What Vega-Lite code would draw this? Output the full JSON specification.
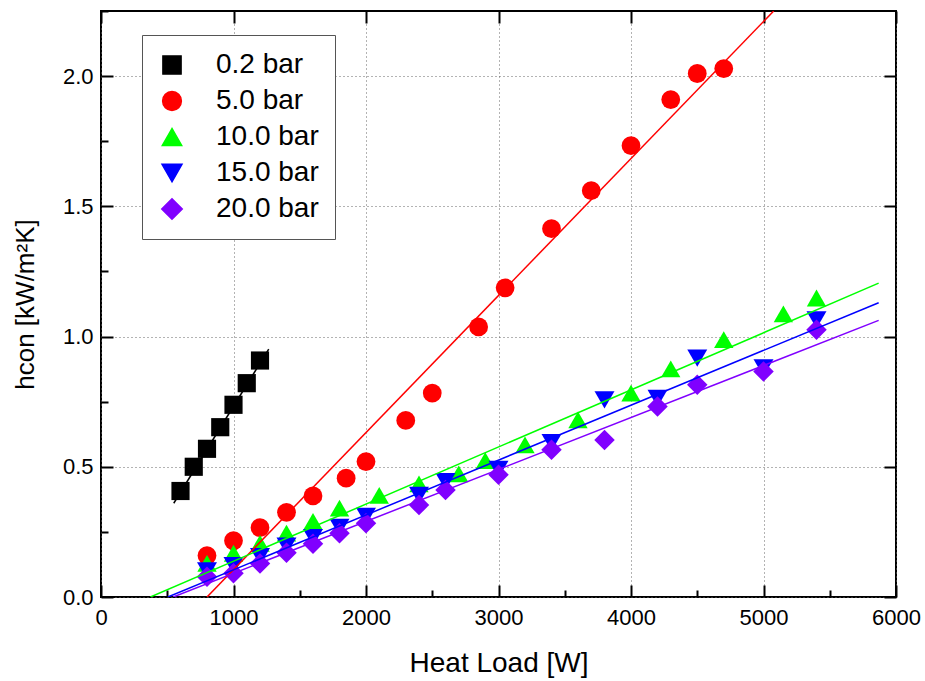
{
  "$schema": "https://vega.github.io/schema/vega-lite/v6.json",
  "width": 795,
  "height": 586,
  "autosize": "none",
  "padding": {"left": 101, "top": 11, "right": 29, "bottom": 84},
  "background": "white",
  "config": {
    "view": {"stroke": "#000000", "strokeWidth": 2},
    "font": "Liberation Sans",
    "axis": {
      "domain": false,
      "tickColor": "#000000",
      "tickWidth": 2,
      "labelColor": "#000000",
      "labelFontSize": 22,
      "titleColor": "#000000",
      "titleFontSize": 28,
      "titleFontWeight": "normal",
      "gridColor": "#666666",
      "gridDash": [1, 3]
    },
    "legend": {
      "labelFontSize": 28,
      "labelColor": "#000000",
      "strokeColor": "#555555",
      "fillColor": "white",
      "padding": 16,
      "rowPadding": 8,
      "labelOffset": 30
    }
  },
  "datasets": {
    "points": [
      {"series": "0.2 bar", "load": 600, "h": 0.407},
      {"series": "0.2 bar", "load": 700, "h": 0.5},
      {"series": "0.2 bar", "load": 800, "h": 0.569},
      {"series": "0.2 bar", "load": 900, "h": 0.652},
      {"series": "0.2 bar", "load": 1000, "h": 0.738},
      {"series": "0.2 bar", "load": 1100, "h": 0.821},
      {"series": "0.2 bar", "load": 1200, "h": 0.908},
      {"series": "5.0 bar", "load": 800, "h": 0.159},
      {"series": "5.0 bar", "load": 1000, "h": 0.216},
      {"series": "5.0 bar", "load": 1200, "h": 0.266},
      {"series": "5.0 bar", "load": 1400, "h": 0.325},
      {"series": "5.0 bar", "load": 1600, "h": 0.388},
      {"series": "5.0 bar", "load": 1850, "h": 0.456},
      {"series": "5.0 bar", "load": 2000, "h": 0.52},
      {"series": "5.0 bar", "load": 2300, "h": 0.678},
      {"series": "5.0 bar", "load": 2500, "h": 0.783},
      {"series": "5.0 bar", "load": 2850, "h": 1.037},
      {"series": "5.0 bar", "load": 3050, "h": 1.187},
      {"series": "5.0 bar", "load": 3400, "h": 1.414},
      {"series": "5.0 bar", "load": 3700, "h": 1.56},
      {"series": "5.0 bar", "load": 4000, "h": 1.733},
      {"series": "5.0 bar", "load": 4300, "h": 1.91},
      {"series": "5.0 bar", "load": 4500, "h": 2.01},
      {"series": "5.0 bar", "load": 4700, "h": 2.029},
      {"series": "10.0 bar", "load": 800, "h": 0.129},
      {"series": "10.0 bar", "load": 1000, "h": 0.168},
      {"series": "10.0 bar", "load": 1200, "h": 0.206},
      {"series": "10.0 bar", "load": 1400, "h": 0.245},
      {"series": "10.0 bar", "load": 1600, "h": 0.29},
      {"series": "10.0 bar", "load": 1800, "h": 0.341},
      {"series": "10.0 bar", "load": 2100, "h": 0.39},
      {"series": "10.0 bar", "load": 2400, "h": 0.434},
      {"series": "10.0 bar", "load": 2700, "h": 0.473},
      {"series": "10.0 bar", "load": 2900, "h": 0.524},
      {"series": "10.0 bar", "load": 3200, "h": 0.584},
      {"series": "10.0 bar", "load": 3600, "h": 0.68},
      {"series": "10.0 bar", "load": 4000, "h": 0.783},
      {"series": "10.0 bar", "load": 4300, "h": 0.876},
      {"series": "10.0 bar", "load": 4700, "h": 0.988},
      {"series": "10.0 bar", "load": 5150, "h": 1.087},
      {"series": "10.0 bar", "load": 5400, "h": 1.148},
      {"series": "15.0 bar", "load": 800, "h": 0.1},
      {"series": "15.0 bar", "load": 1000, "h": 0.12},
      {"series": "15.0 bar", "load": 1200, "h": 0.155},
      {"series": "15.0 bar", "load": 1400, "h": 0.195},
      {"series": "15.0 bar", "load": 1600, "h": 0.228},
      {"series": "15.0 bar", "load": 1800, "h": 0.267},
      {"series": "15.0 bar", "load": 2000, "h": 0.31},
      {"series": "15.0 bar", "load": 2400, "h": 0.39},
      {"series": "15.0 bar", "load": 2600, "h": 0.443},
      {"series": "15.0 bar", "load": 3000, "h": 0.49},
      {"series": "15.0 bar", "load": 3400, "h": 0.593},
      {"series": "15.0 bar", "load": 3800, "h": 0.757},
      {"series": "15.0 bar", "load": 4200, "h": 0.763},
      {"series": "15.0 bar", "load": 4500, "h": 0.917},
      {"series": "15.0 bar", "load": 5000, "h": 0.88},
      {"series": "15.0 bar", "load": 5400, "h": 1.064},
      {"series": "20.0 bar", "load": 800, "h": 0.078},
      {"series": "20.0 bar", "load": 1000, "h": 0.091},
      {"series": "20.0 bar", "load": 1200, "h": 0.129},
      {"series": "20.0 bar", "load": 1400, "h": 0.17},
      {"series": "20.0 bar", "load": 1600, "h": 0.204},
      {"series": "20.0 bar", "load": 1800, "h": 0.245},
      {"series": "20.0 bar", "load": 2000, "h": 0.283},
      {"series": "20.0 bar", "load": 2400, "h": 0.353},
      {"series": "20.0 bar", "load": 2600, "h": 0.411},
      {"series": "20.0 bar", "load": 3000, "h": 0.469},
      {"series": "20.0 bar", "load": 3400, "h": 0.565},
      {"series": "20.0 bar", "load": 3800, "h": 0.603},
      {"series": "20.0 bar", "load": 4200, "h": 0.731},
      {"series": "20.0 bar", "load": 4500, "h": 0.815},
      {"series": "20.0 bar", "load": 5000, "h": 0.866},
      {"series": "20.0 bar", "load": 5400, "h": 1.026}
    ],
    "fits": [
      {"series": "0.2 bar", "load": 549, "h": 0.36},
      {"series": "0.2 bar", "load": 1266, "h": 0.952},
      {"series": "5.0 bar", "load": 800, "h": 0},
      {"series": "5.0 bar", "load": 5077, "h": 2.25},
      {"series": "10.0 bar", "load": 373, "h": 0},
      {"series": "10.0 bar", "load": 5869, "h": 1.205},
      {"series": "15.0 bar", "load": 505, "h": 0},
      {"series": "15.0 bar", "load": 5869, "h": 1.13},
      {"series": "20.0 bar", "load": 545, "h": 0},
      {"series": "20.0 bar", "load": 5869, "h": 1.062}
    ]
  },
  "layer": [
    {
      "data": {"name": "points"},
      "mark": {"type": "point", "filled": true, "opacity": 1, "strokeWidth": 0},
      "encoding": {
        "x": {
          "field": "load",
          "type": "quantitative",
          "scale": {"domain": [0, 6000], "nice": false},
          "axis": {
            "orient": "bottom",
            "title": "Heat Load [W]",
            "values": [0, 500, 1000, 1500, 2000, 2500, 3000, 3500, 4000, 4500, 5000, 5500, 6000],
            "format": "d",
            "labelExpr": "datum.value % 1000 === 0 ? datum.label : ''",
            "tickSize": {"condition": {"test": "datum.value % 1000 === 0", "value": -12}, "value": -7},
            "grid": false,
            "labelFlush": false,
            "labelOverlap": false,
            "labelPadding": 22,
            "titlePadding": 16
          }
        },
        "y": {
          "field": "h",
          "type": "quantitative",
          "scale": {"domain": [0, 2.25], "nice": false},
          "axis": {
            "orient": "left",
            "title": "hcon [kW/m²K]",
            "titleFontSize": 26,
            "values": [0, 0.25, 0.5, 0.75, 1, 1.25, 1.5, 1.75, 2, 2.25],
            "format": ".1f",
            "labelExpr": "datum.value % 0.5 === 0 ? datum.label : ''",
            "tickSize": {"condition": {"test": "datum.value % 0.5 === 0", "value": -12}, "value": -7},
            "grid": false,
            "labelFlush": false,
            "labelOverlap": false,
            "labelPadding": 20,
            "titlePadding": 24
          }
        },
        "color": {
          "field": "series",
          "type": "nominal",
          "scale": {
            "domain": ["0.2 bar", "5.0 bar", "10.0 bar", "15.0 bar", "20.0 bar"],
            "range": ["#000000", "#ff0000", "#00ff00", "#0000ff", "#8000ff"]
          },
          "legend": {"title": null, "orient": "none", "legendX": 41, "legendY": 24}
        },
        "shape": {
          "field": "series",
          "type": "nominal",
          "scale": {
            "domain": ["0.2 bar", "5.0 bar", "10.0 bar", "15.0 bar", "20.0 bar"],
            "range": ["square", "circle", "triangle-up", "triangle-down", "diamond"]
          },
          "legend": {"title": null, "orient": "none", "legendX": 41, "legendY": 24}
        },
        "size": {
          "field": "series",
          "type": "nominal",
          "scale": {
            "domain": ["0.2 bar", "5.0 bar", "10.0 bar", "15.0 bar", "20.0 bar"],
            "range": [330, 420, 640, 640, 700]
          },
          "legend": {"title": null, "orient": "none", "legendX": 41, "legendY": 24}
        }
      }
    },
    {
      "data": {"name": "fits"},
      "mark": {"type": "line", "strokeWidth": 1.5, "clip": true},
      "encoding": {
        "x": {
          "field": "load",
          "type": "quantitative",
          "scale": {"domain": [0, 6000], "nice": false},
          "axis": {
            "orient": "top",
            "title": null,
            "labels": false,
            "grid": true,
            "values": [0, 1000, 2000, 3000, 4000, 5000, 6000],
            "tickSize": -12
          }
        },
        "y": {
          "field": "h",
          "type": "quantitative",
          "scale": {"domain": [0, 2.25], "nice": false},
          "axis": {
            "orient": "right",
            "title": null,
            "labels": false,
            "grid": true,
            "values": [0, 0.5, 1, 1.5, 2],
            "tickSize": -12
          }
        },
        "color": {
          "field": "series",
          "type": "nominal",
          "scale": {
            "domain": ["0.2 bar", "5.0 bar", "10.0 bar", "15.0 bar", "20.0 bar"],
            "range": ["#000000", "#ff0000", "#00ff00", "#0000ff", "#8000ff"]
          },
          "legend": null
        }
      }
    }
  ],
  "resolve": {"axis": {"x": "independent", "y": "independent"}}
}
